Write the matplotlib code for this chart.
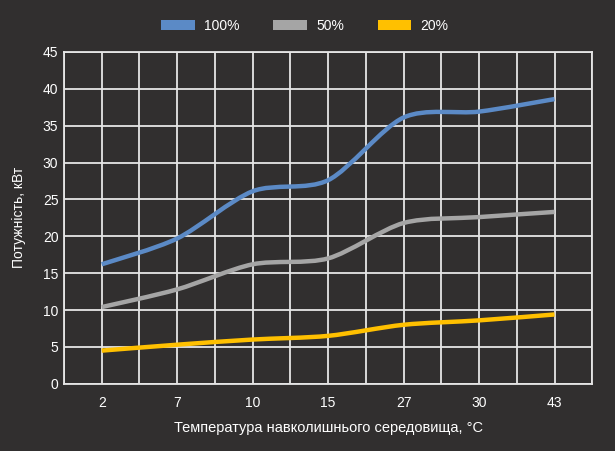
import matplotlib
matplotlib.use("Agg")
import matplotlib.pyplot as plt
import numpy as np
from matplotlib.path import Path
from matplotlib.patches import PathPatch, Patch

temps = ["2", "7", "10", "15", "27", "30", "43"]
load_100 = [16.2, 19.7, 26.1, 27.6, 36.1, 36.9, 38.6]
load_50 = [10.4, 12.8, 16.2, 17.0, 21.8, 22.6, 23.3]
load_20 = [4.5, 5.3, 6.0, 6.5, 8.0, 8.6, 9.4]
series_names = ["100%", "50%", "20%"]
colors = ["#5b8ac6", "#a5a5a5", "#ffc000"]

BG = "#312f2f"
GRID = "#e6e6e6"

plt.rcParams['font.family'] = ['Liberation Sans', 'DejaVu Sans']


def smooth_path(xs, ys, k=7.0):
    """Catmull-Rom style cubic bezier through the points."""
    pts = np.column_stack([xs, ys]).astype(float)
    verts = [pts[0]]
    codes = [Path.MOVETO]
    n = len(pts)
    for i in range(n - 1):
        p0 = pts[i - 1] if i > 0 else pts[i]
        p1 = pts[i]
        p2 = pts[i + 1]
        p3 = pts[i + 2] if i + 2 < n else pts[i + 1]
        c1 = p1 + (p2 - p0) / k
        c2 = p2 - (p3 - p1) / k
        verts += [c1, c2, p2]
        codes += [Path.CURVE4] * 3
    return Path(verts, codes)


fig = plt.figure(figsize=(6.15, 4.51), dpi=100, facecolor=BG)
ax = fig.add_axes([0.104, 0.149, 0.859, 0.736])
ax.set_facecolor(BG)

x = np.arange(len(temps)) * 2 + 1
for vals, c in zip([load_100, load_50, load_20], colors):
    ax.add_patch(PathPatch(smooth_path(x, vals), fill=False, edgecolor=c,
                           lw=3.2, capstyle='butt', zorder=3))

ax.set_xlim(0, 2 * len(temps))
ax.set_ylim(0, 45)
ax.set_xticks(x)
ax.set_xticklabels(temps)
ax.set_xticks(np.arange(0, 2 * len(temps) + 1), minor=True)
ax.set_yticks(np.arange(0, 46, 5))

ax.grid(True, which='both', color=GRID, lw=1.3, zorder=1)
ax.tick_params(which='both', length=0, colors='white', labelsize=10)
ax.tick_params(axis='x', pad=9)
ax.tick_params(axis='y', pad=4)
for s in ax.spines.values():
    s.set_color(GRID)
    s.set_linewidth(1.3)

ax.set_xlabel("Температура навколишнього середовища, °C", color='white',
              fontsize=10.5, labelpad=8)
ax.set_ylabel("Потужність, кВт", color='white', fontsize=10, labelpad=12)

handles = [Patch(facecolor=c, edgecolor='none') for c in colors]
fig.legend(handles, series_names, loc='center', bbox_to_anchor=(0.496, 0.942),
           ncol=3, frameon=False, fontsize=10, labelcolor='white',
           handlelength=2.4, handleheight=0.7, handletextpad=0.7,
           columnspacing=2.4)

fig.savefig("out.png", dpi=100, facecolor=BG)
